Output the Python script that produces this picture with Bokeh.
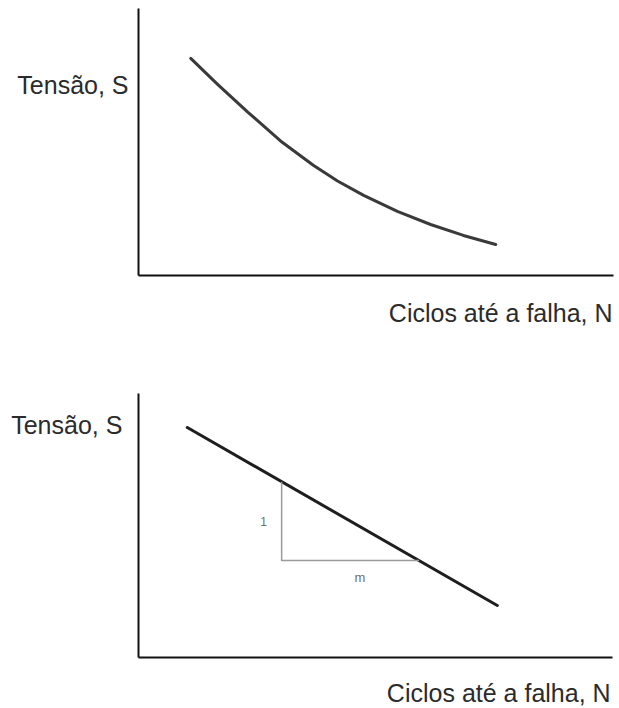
import numpy as np
from bokeh.plotting import figure
from bokeh.layouts import column
from bokeh.models import Range1d, Label, LinearAxis, FixedTicker
from bokeh.embed import file_html
from bokeh.resources import INLINE

# S-N curve, linear axes (relative units, 0-100)
curve_n = [11.0, 16.6, 23.0, 29.9, 36.8, 41.9, 47.4, 54.5, 61.5, 68.4, 75.2]
curve_s = [81.3, 71.7, 61.2, 50.4, 41.3, 35.4, 30.0, 24.0, 19.1, 15.0, 11.6]

# S-N line, log-log axes (relative units, 0-100)
line_n = [10.3, 75.7]
line_s = [87.1, 19.7]

# slope triangle: vertical leg at triangle_n, horizontal leg at triangle_s
triangle_n = 30.2
triangle_s = 36.7

y_title = "Tensão, S"
x_title = "Ciclos até a falha, N"
rise_label = "1"
run_label = "m"

FONT = "Liberation Sans"
TEXT_COLOR = "#2b2b2b"
TITLE_SIZE = "25px"


def make_panel(x_range, y_range):
    # the frame fills the whole figure; the axes sit at 0 and span 0..100
    p = figure(width=619, height=354, output_backend="svg", toolbar_location=None,
               x_range=Range1d(*x_range), y_range=Range1d(*y_range),
               x_axis_location=None, y_axis_location=None,
               min_border=0)
    p.outline_line_color = None
    p.grid.visible = False
    p.background_fill_color = "white"
    p.border_fill_color = "white"
    for side in ("left", "below"):
        ax = LinearAxis(ticker=FixedTicker(ticks=[]), fixed_location=0, bounds=(0, 100),
                        major_tick_line_color=None, minor_tick_line_color=None,
                        major_label_text_font_size="0px",
                        axis_line_color="#111111", axis_line_width=2)
        p.add_layout(ax, side)
    return p


def add_titles(p, y_lab_x, y_lab_y, x_lab_x, x_lab_y):
    p.add_layout(Label(x=y_lab_x, y=y_lab_y, text=y_title, text_align="right",
                       text_baseline="middle", text_font=FONT, text_font_size=TITLE_SIZE,
                       text_color=TEXT_COLOR))
    p.add_layout(Label(x=x_lab_x, y=x_lab_y, text=x_title, text_align="right",
                       text_baseline="middle", text_font=FONT, text_font_size=TITLE_SIZE,
                       text_color=TEXT_COLOR))


# top panel: curved S-N relation
p1 = make_panel((-29.05, 101.26), (-29.59, 103.0))
p1.line(curve_n, curve_s, line_width=3, line_color="#3a3a3a", line_cap="round",
        line_join="round")
add_titles(p1, -2.1, 71.2, 99.8, -14.2)

# bottom panel: straight line on log-log scale with slope triangle
p2 = make_panel((-29.11, 101.48), (-19.32, 114.77))
p2.line(line_n, line_s, line_width=3, line_color="#1e1e1e", line_cap="round")

# triangle corners derived from the line
top_s = float(np.interp(triangle_n, line_n, line_s))
right_n = float(np.interp(triangle_s, line_s[::-1], line_n[::-1]))
p2.line([triangle_n, triangle_n, right_n], [top_s, triangle_s, triangle_s],
        line_width=1.5, line_color="#9a9a9a")
p2.add_layout(Label(x=triangle_n - 3.8, y=(top_s + triangle_s) / 2, text=rise_label,
                    text_align="center", text_baseline="middle", text_font=FONT,
                    text_font_size="12px", text_color="#6f6f6f"))
p2.add_layout(Label(x=(triangle_n + right_n) / 2 + 2.0, y=triangle_s - 6.5, text=run_label,
                    text_align="center", text_baseline="middle", text_font=FONT,
                    text_font_size="13px", text_color="#6f6f6f"))
add_titles(p2, -3.4, 87.9, 99.6, -13.6)

layout = column(p1, p2, spacing=0)
open("out.html", "w").write(file_html(layout, INLINE))
